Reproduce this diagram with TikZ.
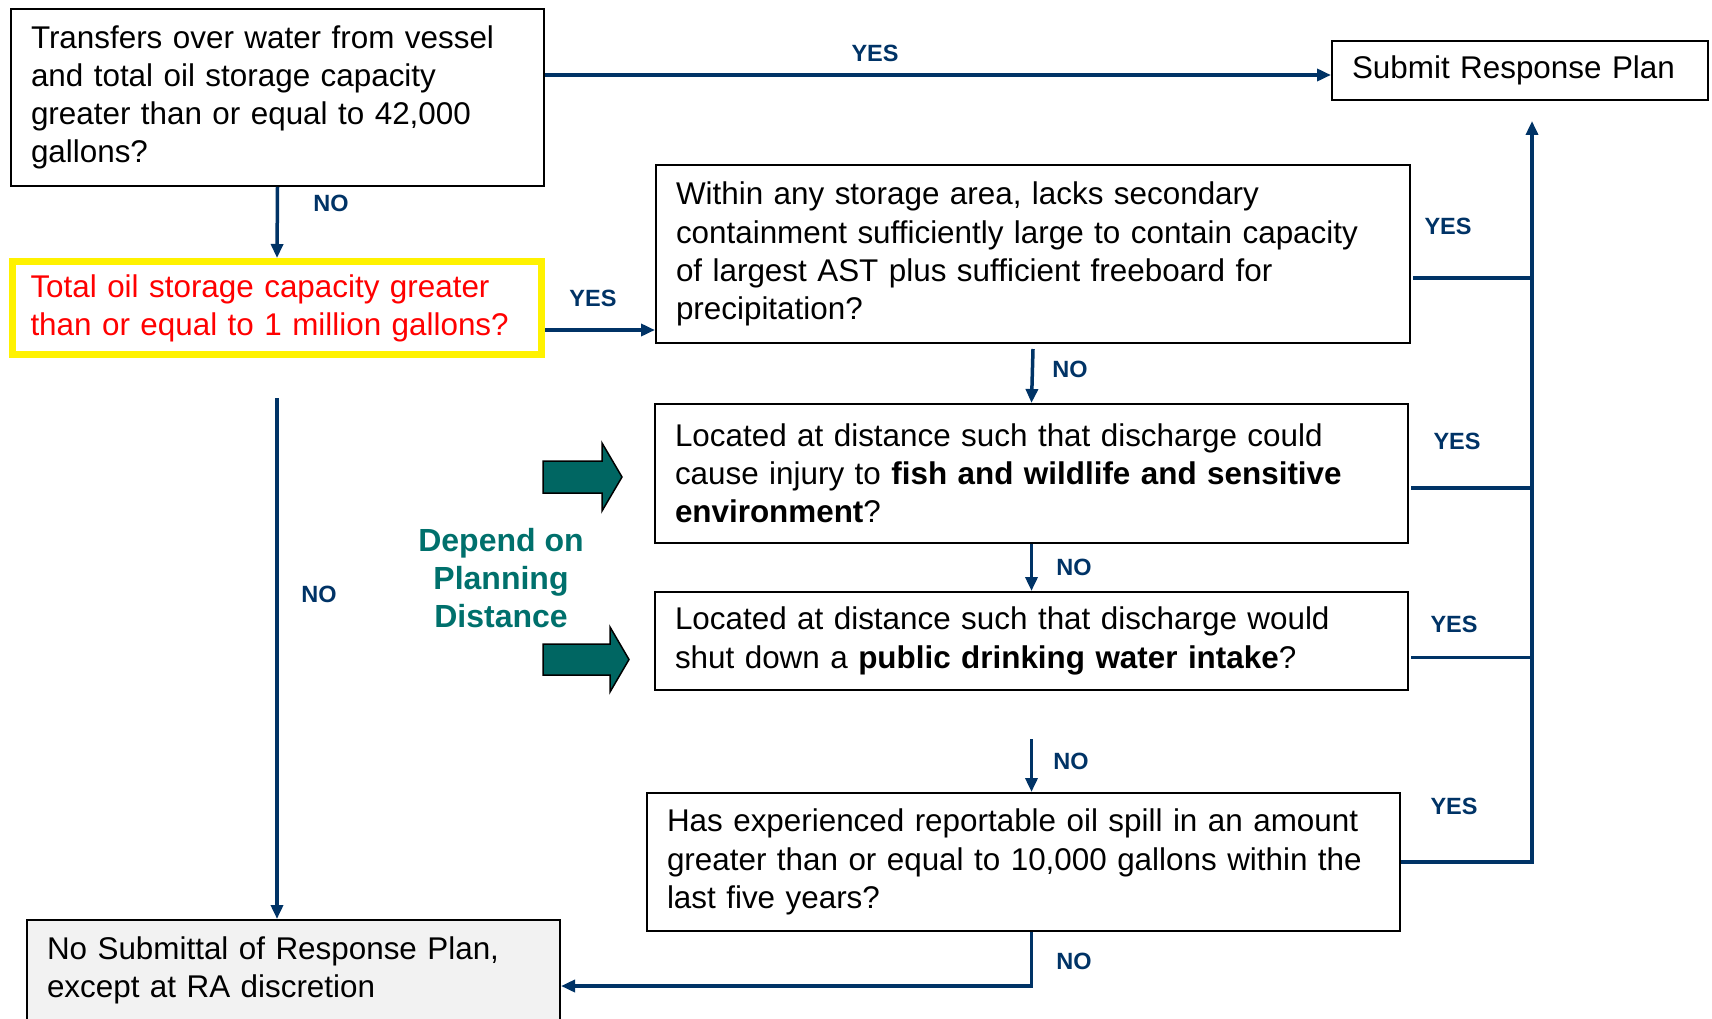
\documentclass[tikz,border=0pt]{standalone}
\usepackage{fontspec}
\setmainfont{Liberation Sans}
\usetikzlibrary{calc,arrows.meta}
\definecolor{navy}{RGB}{0,51,102}
\definecolor{tealfill}{RGB}{0,102,98}
\definecolor{tealtext}{RGB}{0,112,108}
\definecolor{paleg}{RGB}{242,242,242}

\begin{document}
\begin{tikzpicture}[x=1pt,y=-1pt,
  box/.style={draw=black,line width=2pt,inner xsep=20pt,inner ysep=0pt,align=left,
    font=\fontsize{31.4}{38.2}\selectfont},
  lbl/.style={text=navy,font=\fontsize{23.5}{26}\selectfont\bfseries},
  flow/.style={draw=navy,line width=3.5pt,-{Triangle[length=14pt,width=12pt]}},
  link/.style={draw=navy,line width=3.5pt},
  bigarrow/.style={fill=tealfill,draw=black,line width=1.5pt}]
\useasboundingbox (0,0) rectangle (1712,1019);

% questions and outcomes
\node[box,text width=493pt,minimum height=177pt] (q1) at (277.5,97.5)
  {Transfers over water from vessel\\ and total oil storage capacity\\ greater than or equal to 42,000\\ gallons?};
\node[box,text width=336pt,minimum height=59pt] (plan) at (1520,70.5) {Submit Response Plan};
\node[box,draw=yellow,line width=7pt,text=red,inner xsep=18pt,text width=493pt,minimum height=93pt] (q2) at (277,308)
  {Total oil storage capacity greater\\ than or equal to 1 million gallons?};
\node[box,text width=714pt,minimum height=178pt] (q3) at (1033,254)
  {Within any storage area, lacks secondary\\ containment sufficiently large to contain capacity\\ of largest AST plus sufficient freeboard for\\ precipitation?};
\node[box,text width=713pt,minimum height=139pt] (q4) at (1031.5,473.5)
  {Located at distance such that discharge could\\ cause injury to \textbf{fish and wildlife and sensitive}\\ \textbf{environment}?};
\node[box,text width=713pt,minimum height=98pt] (q5) at (1031.5,641)
  {Located at distance such that discharge would\\ shut down a \textbf{public drinking water intake}?};
\node[box,text width=713pt,minimum height=138pt] (q6) at (1023.5,862)
  {Has experienced reportable oil spill in an amount\\ greater than or equal to 10,000 gallons within the\\ last five years?};
\node[box,fill=paleg,text width=493pt,minimum height=100pt] (noplan) at (293.5,970)
  {No Submittal of Response Plan,\\ except at RA discretion};

% planning distance
\node[text=tealtext,font=\fontsize{32}{38}\selectfont\bfseries,align=center] (dist) at (501,578)
  {Depend on\\ Planning\\ Distance};
\draw[bigarrow] (543,461) -- (602,461) -- (602,443) -- (622,477) -- (602,511) -- (602,493) -- (543,493) -- cycle;
\draw[bigarrow] (543,644) -- (610,644) -- (610,627) -- (629,659.5) -- (610,692) -- (610,675) -- (543,675) -- cycle;

% connectors
\draw[flow] ($(q1.east)+(0,-22.5)$) coordinate (t1) -- (t1 -| plan.west);
\draw[flow] (q1.south) -- (q2.north);
\draw[flow] ($(q2.east)+(0,22)$) coordinate (t2) -- (t2 -| q3.west);
\draw[flow] ($(q2.south)+(0,40)$) coordinate (t3) -- (t3 |- noplan.north);
\draw[flow] ($(q3.south)+(0,5)$) -- (q4.north);
\draw[flow] (q4.south) -- (q5.north);
\draw[flow] ($(q5.south)+(0,48)$) coordinate (t4) -- (t4 |- q6.north);
\draw[flow] (t4 |- q6.south) |- ($(noplan.east)+(0,16)$);

\coordinate (bus) at (1532,862);
\foreach \n/\d in {q3/24,q4/14.5,q5/16.5}
  \draw[link] ($(\n.east)+(2,\d)$) coordinate (y\n) -- (y\n -| bus);
\draw[flow] (q6.east) -- (bus) -- ($(bus |- plan.south)+(0,20)$);

% YES / NO labels
\foreach \x/\y/\t [count=\i] in {875/53/YES,331/203/NO,593/298/YES,319/594/NO,
    1448/226/YES,1070/369/NO,1457/441/YES,1074/567/NO,
    1454/624/YES,1071/761/NO,1454/806/YES,1074/961/NO}
  \node[lbl] (lbl\i) at (\x,\y) {\t};
\end{tikzpicture}
\end{document}
